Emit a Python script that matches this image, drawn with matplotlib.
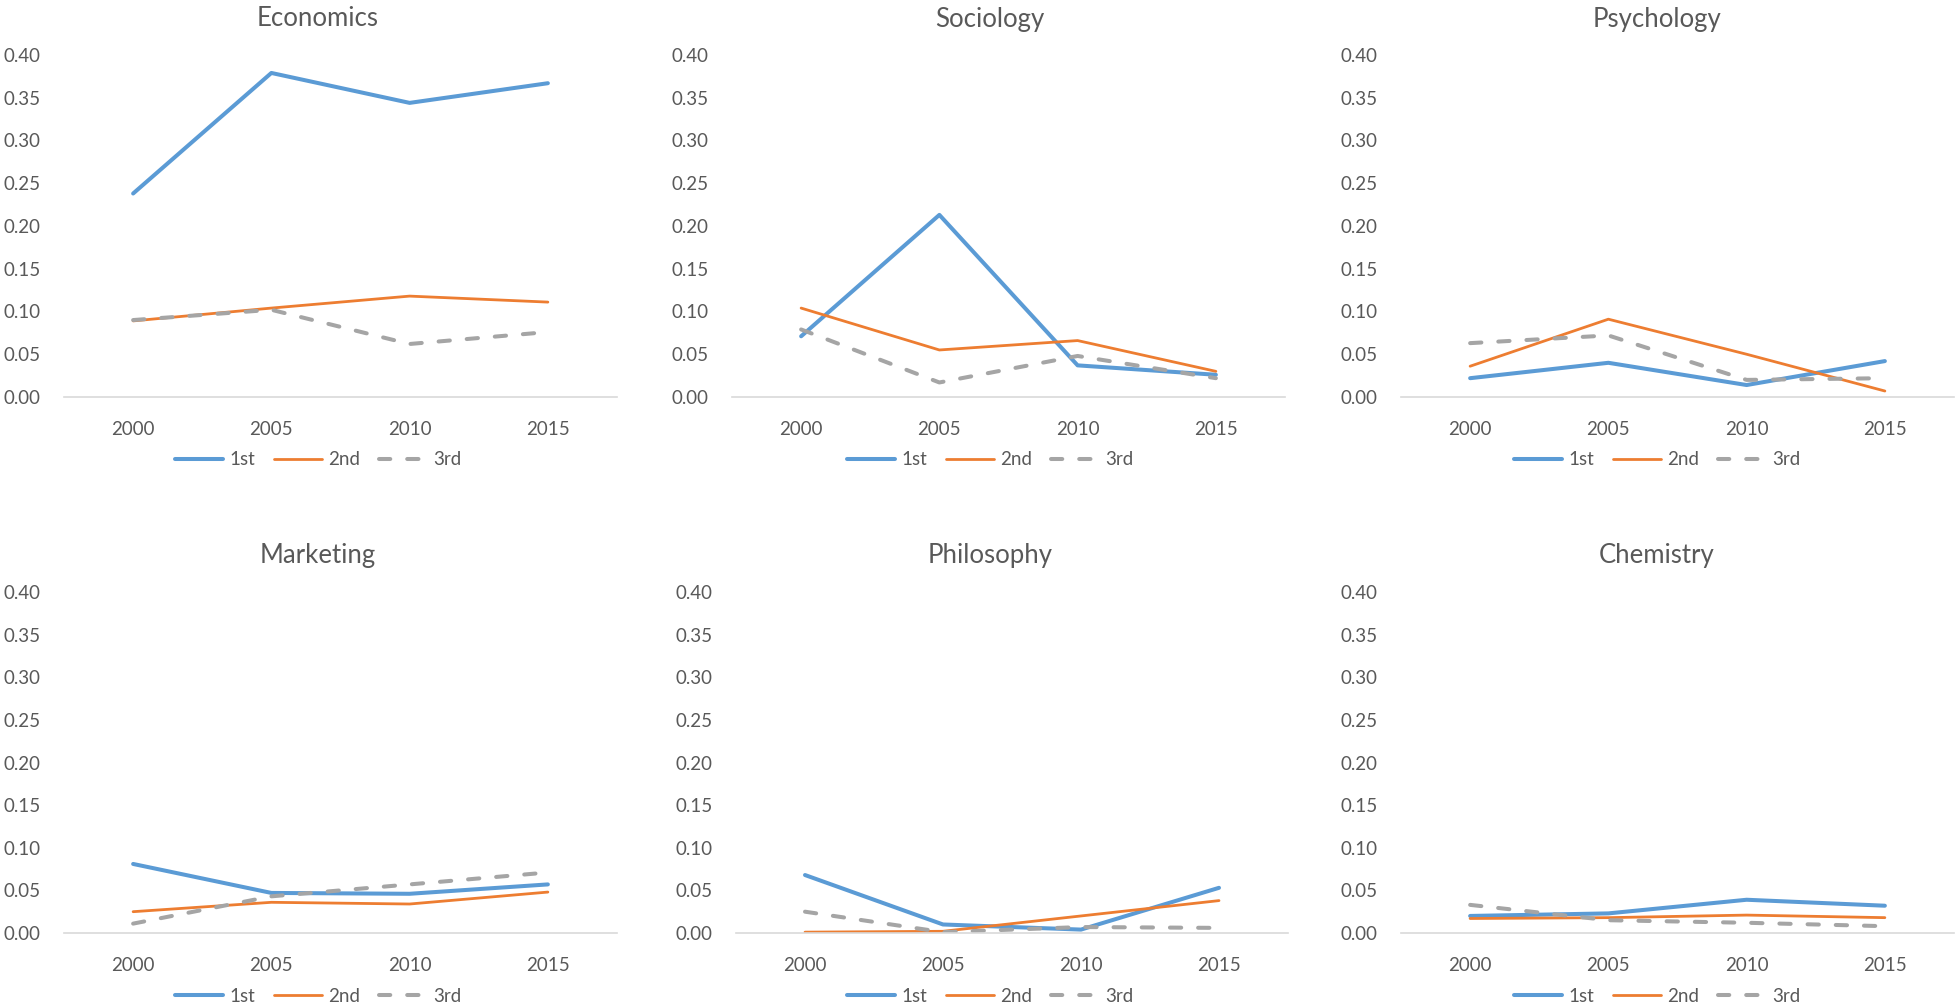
import numpy as np
import matplotlib
matplotlib.use("Agg")
import matplotlib.pyplot as plt

# years on the x axis
years = ["2000", "2005", "2010", "2015"]
series_names = ["1st", "2nd", "3rd"]

# share per field, one list per rank
econ_1st = [0.238, 0.379, 0.344, 0.367]
econ_2nd = [0.089, 0.104, 0.118, 0.111]
econ_3rd = [0.090, 0.102, 0.062, 0.076]

soc_1st = [0.071, 0.213, 0.037, 0.026]
soc_2nd = [0.104, 0.055, 0.066, 0.030]
soc_3rd = [0.079, 0.017, 0.048, 0.022]

psy_1st = [0.022, 0.040, 0.014, 0.042]
psy_2nd = [0.036, 0.091, 0.050, 0.007]
psy_3rd = [0.063, 0.072, 0.020, 0.022]

mkt_1st = [0.081, 0.047, 0.046, 0.057]
mkt_2nd = [0.025, 0.036, 0.034, 0.048]
mkt_3rd = [0.011, 0.043, 0.057, 0.071]

phil_1st = [0.068, 0.010, 0.004, 0.053]
phil_2nd = [0.001, 0.002, 0.020, 0.038]
phil_3rd = [0.025, 0.001, 0.007, 0.006]

chem_1st = [0.020, 0.023, 0.039, 0.032]
chem_2nd = [0.017, 0.018, 0.021, 0.018]
chem_3rd = [0.033, 0.015, 0.012, 0.008]

fields = ["Economics", "Sociology", "Psychology", "Marketing", "Philosophy", "Chemistry"]
values = [
    (econ_1st, econ_2nd, econ_3rd),
    (soc_1st, soc_2nd, soc_3rd),
    (psy_1st, psy_2nd, psy_3rd),
    (mkt_1st, mkt_2nd, mkt_3rd),
    (phil_1st, phil_2nd, phil_3rd),
    (chem_1st, chem_2nd, chem_3rd),
]

W, H = 1959, 1008
plt.rcParams['font.family'] = ['Lato', 'DejaVu Sans']
txt = "#595959"

fig = plt.figure(figsize=(W / 100, H / 100), dpi=100)

# pixel boxes of each plot area: left, right, top (0.40), bottom (0.00)
boxes = [
    (64, 617, 55, 397), (732, 1285, 55, 397), (1401, 1954, 55, 397),
    (64, 617, 592, 933), (736, 1288, 592, 933), (1401, 1954, 592, 933),
]
centers = [318, 990, 1657, 318, 990, 1657]
title_y = [19, 19, 19, 556, 556, 556]
legend_y = [460, 460, 460, 996, 996, 996]

styles = [
    dict(color="#5B9BD5", lw=2.9, solid_capstyle="round"),
    dict(color="#ED7D31", lw=2.0, solid_capstyle="round"),
    dict(color="#A5A5A5", lw=2.9, ls=(0, (2.8, 4.2)), dash_capstyle="round"),
]

x = np.arange(len(years))
for i, name in enumerate(fields):
    l, r, t, b = boxes[i]
    ax = fig.add_axes([l / W, 1 - b / H, (r - l) / W, (b - t) / H])
    lines = []
    for vals, st, lab in zip(values[i], styles, series_names):
        ln, = ax.plot(x, vals, label=lab, **st)
        lines.append(ln)
    ax.set_xlim(-0.5, 3.5)
    ax.set_ylim(0, 0.40)
    ax.set_yticks(np.arange(0, 0.401, 0.05))
    ax.set_yticklabels(["%.2f" % v for v in np.arange(0, 0.401, 0.05)])
    ax.set_xticks(x)
    ax.set_xticklabels(years)
    ax.tick_params(length=0, labelsize=13.5, colors=txt)
    ax.tick_params(axis="y", pad=17)
    ax.tick_params(axis="x", pad=17)
    for s in ["top", "right", "left"]:
        ax.spines[s].set_visible(False)
    ax.spines["bottom"].set_color("#D9D9D9")
    ax.spines["bottom"].set_linewidth(1.2)
    ax.patch.set_alpha(0)

    fig.text(centers[i] / W, 1 - title_y[i] / H, name, ha="center", va="center",
             fontsize=18.5, color=txt)
    fig.legend(handles=lines, loc="center", ncol=3, frameon=False,
               bbox_to_anchor=(centers[i] / W, 1 - legend_y[i] / H),
               fontsize=13.5, labelcolor=txt, handlelength=2.6,
               handletextpad=0.3, columnspacing=1.0)

fig.savefig("out.png", dpi=100)
